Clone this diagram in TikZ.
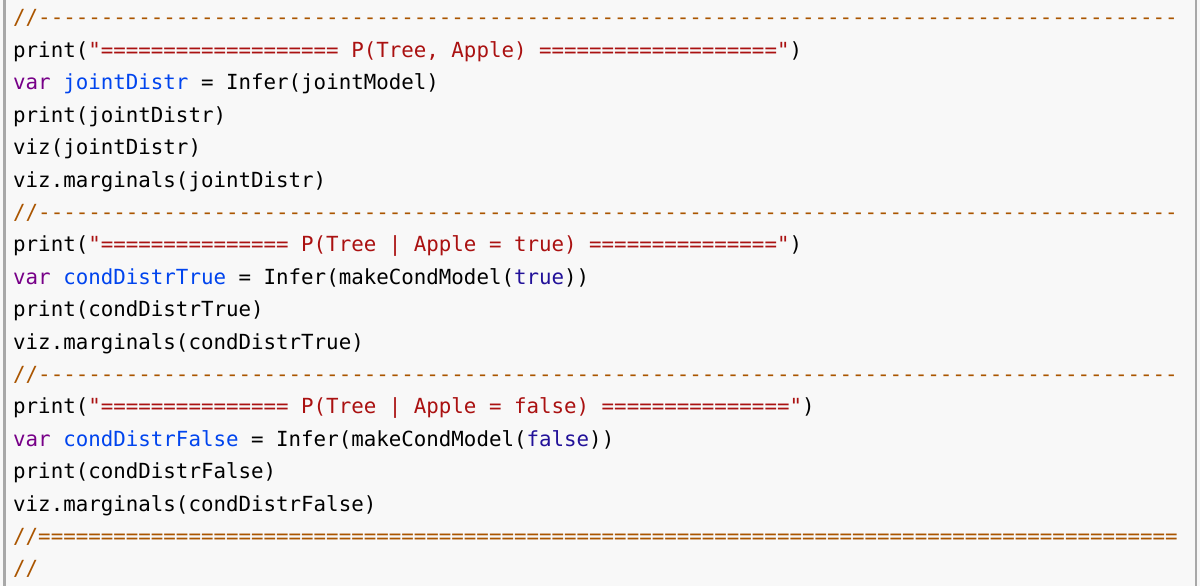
\documentclass[tikz,border=0pt]{standalone}
\usepackage{fontspec}
\setmonofont{DejaVu Sans Mono}
\definecolor{bgc}{HTML}{F8F8F8}
\definecolor{bordc}{HTML}{A8A8A8}
\definecolor{kw}{HTML}{770088}
\definecolor{df}{HTML}{0044EE}
\definecolor{str}{HTML}{AA1111}
\definecolor{cmt}{HTML}{AA5500}
\definecolor{atm}{HTML}{221199}
\newcommand{\K}[1]{\textcolor{kw}{#1}}
\newcommand{\D}[1]{\textcolor{df}{#1}}
\newcommand{\Sg}[1]{\textcolor{str}{#1}}
\newcommand{\A}[1]{\textcolor{atm}{#1}}
\begin{document}
\begin{tikzpicture}[x=1pt,y=-1pt,
  codeline/.style={anchor=base west,inner sep=0pt,font=\ttfamily\fontsize{20.8}{32.4}\selectfont,text=black}]
\useasboundingbox (0,0) rectangle (1200,586);
\fill[bgc] (0,0) rectangle (1200,586);
\fill[bordc] (2.5,0) rectangle (5.5,586);
\fill[bordc] (1194.5,0) rectangle (1197,586);
\def\dashes{//-------------------------------------------------------------------------------------------}
\def\equals{//===========================================================================================}
\node[codeline,text=cmt] (l1) at (13,25) {\dashes};
\node[codeline] (l2) at (13,57.4) {print(\Sg{"=================== P(Tree, Apple) ==================="})};
\node[codeline] (l3) at (13,89.8) {\K{var} \D{jointDistr} = Infer(jointModel)};
\node[codeline] (l4) at (13,122.2) {print(jointDistr)};
\node[codeline] (l5) at (13,154.6) {viz(jointDistr)};
\node[codeline] (l6) at (13,187) {viz.marginals(jointDistr)};
\node[codeline,text=cmt] (l7) at (13,219.4) {\dashes};
\node[codeline] (l8) at (13,251.8) {print(\Sg{"=============== P(Tree | Apple = true) ==============="})};
\node[codeline] (l9) at (13,284.2) {\K{var} \D{condDistrTrue} = Infer(makeCondModel(\A{true}))};
\node[codeline] (l10) at (13,316.6) {print(condDistrTrue)};
\node[codeline] (l11) at (13,349) {viz.marginals(condDistrTrue)};
\node[codeline,text=cmt] (l12) at (13,381.4) {\dashes};
\node[codeline] (l13) at (13,413.8) {print(\Sg{"=============== P(Tree | Apple = false) ==============="})};
\node[codeline] (l14) at (13,446.2) {\K{var} \D{condDistrFalse} = Infer(makeCondModel(\A{false}))};
\node[codeline] (l15) at (13,478.6) {print(condDistrFalse)};
\node[codeline] (l16) at (13,511) {viz.marginals(condDistrFalse)};
\node[codeline,text=cmt] (l17) at (13,543.4) {\equals};
\node[codeline,text=cmt] (l18) at (13,575.8) {//};
\end{tikzpicture}
\end{document}
